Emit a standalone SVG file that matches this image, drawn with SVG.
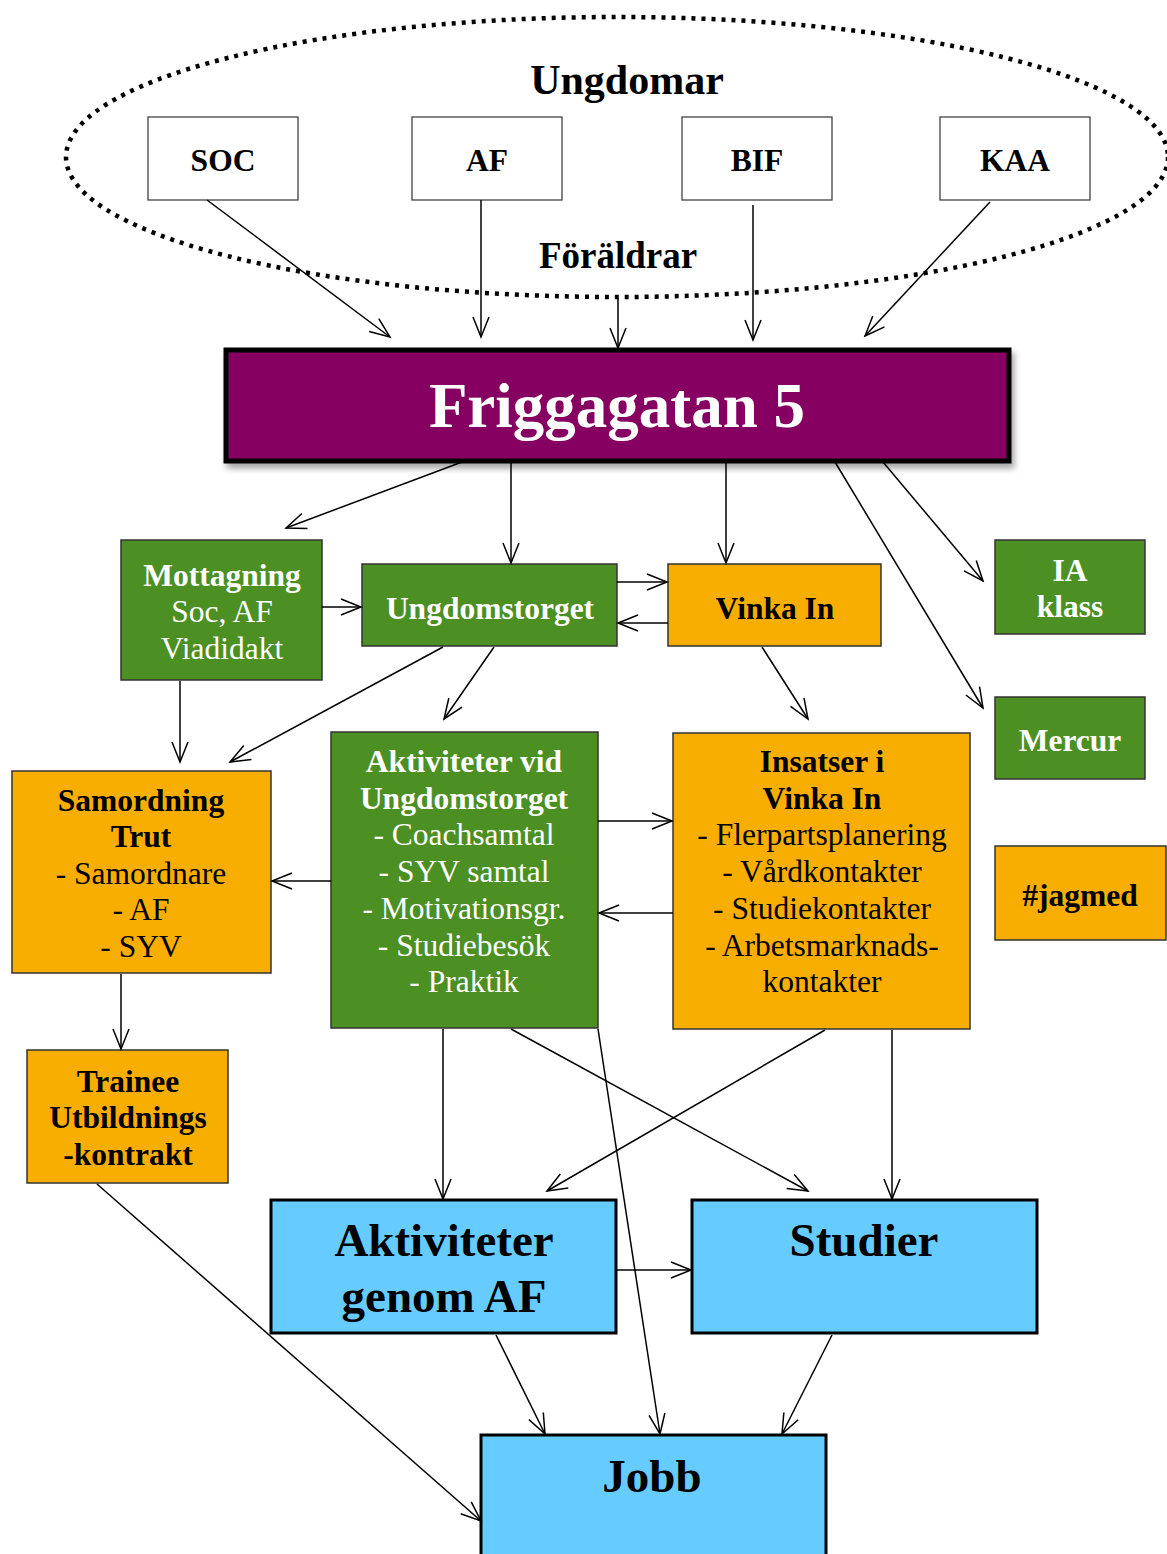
<svg xmlns="http://www.w3.org/2000/svg" width="1167" height="1554" viewBox="0 0 1167 1554">
<style>
text{font-family:"Liberation Serif","Times New Roman",serif;text-anchor:middle}
.b{font-weight:bold}
.s{font-size:31.5px}
.w{fill:#ffffff}
.k{fill:#000000}
.white{fill:#ffffff;stroke:#333333;stroke-width:1.2}
.green{fill:#4c8f23;stroke:#333333;stroke-width:1.5}
.orange{fill:#f8ae00;stroke:#333333;stroke-width:1.5}
.blue{fill:#66ccff;stroke:#000000;stroke-width:3}
.c line,.c path{stroke:#000000;stroke-width:1.5;fill:none;marker-end:url(#ah)}
</style>
<defs>
<marker id="ah" markerUnits="userSpaceOnUse" markerWidth="26" markerHeight="22" viewBox="-23 -11 26 22" refX="0" refY="0" orient="auto">
<path d="M-20,-8 L0,0 L-20,8" fill="none" stroke="#000000" stroke-width="1.5"/>
</marker>
<filter id="sh" x="-5%" y="-20%" width="112%" height="150%">
<feDropShadow dx="3" dy="5" stdDeviation="3" flood-color="#000000" flood-opacity="0.35"/>
</filter>
</defs>
<rect width="1167" height="1554" fill="#ffffff"/>

<g id="ellipse">
<ellipse cx="617" cy="157" rx="551" ry="140" fill="none" stroke="#000000" stroke-width="4.5" stroke-dasharray="4 6"/>
<text x="627" y="94" class="b" font-size="42">Ungdomar</text>
<text x="618" y="268" class="b" font-size="37">Föräldrar</text>
</g>

<g id="soc"><rect x="148" y="117" width="150" height="83" class="white"/><text x="223" y="171" class="b s k">SOC</text></g>
<g id="af"><rect x="412" y="117" width="150" height="83" class="white"/><text x="487" y="171" class="b s k">AF</text></g>
<g id="bif"><rect x="682" y="117" width="150" height="83" class="white"/><text x="757" y="171" class="b s k">BIF</text></g>
<g id="kaa"><rect x="940" y="117" width="150" height="83" class="white"/><text x="1015" y="171" class="b s k">KAA</text></g>

<g id="friggagatan">
<rect x="226" y="350" width="783" height="111" fill="#850060" stroke="#000000" stroke-width="5" filter="url(#sh)"/>
<text x="617" y="427" class="b w" font-size="63">Friggagatan 5</text>
</g>

<g id="mottagning"><rect x="121" y="540" width="201" height="140" class="green"/>
<text x="222" y="586" class="b s w">Mottagning</text>
<text x="222" y="622" class="s w">Soc, AF</text>
<text x="222" y="659" class="s w">Viadidakt</text></g>

<g id="ungdomstorget"><rect x="362" y="564" width="255" height="82" class="green"/><text x="490" y="619" class="b s w">Ungdomstorget</text></g>
<g id="vinkain"><rect x="668" y="564" width="213" height="82" class="orange"/><text x="775" y="619" class="b s k">Vinka In</text></g>
<g id="iaklass"><rect x="995" y="540" width="150" height="94" class="green"/><text x="1070" y="581" class="b s w">IA</text><text x="1070" y="617" class="b s w">klass</text></g>
<g id="mercur"><rect x="995" y="697" width="150" height="82" class="green"/><text x="1070" y="751" class="b s w">Mercur</text></g>
<g id="jagmed"><rect x="995" y="846" width="171" height="94" class="orange"/><text x="1080" y="906" class="b s k">#jagmed</text></g>

<g id="samordning"><rect x="12" y="771" width="259" height="202" class="orange"/>
<text x="141" y="811" class="b s k">Samordning</text>
<text x="141" y="847" class="b s k">Trut</text>
<text x="141" y="884" class="s k">- Samordnare</text>
<text x="141" y="920" class="s k">- AF</text>
<text x="141" y="957" class="s k">- SYV</text></g>

<g id="aktiviteter-vid"><rect x="331" y="732" width="267" height="296" class="green"/>
<text x="464" y="772" class="b s w">Aktiviteter vid</text>
<text x="464" y="809" class="b s w">Ungdomstorget</text>
<text x="464" y="845" class="s w">- Coachsamtal</text>
<text x="464" y="882" class="s w">- SYV samtal</text>
<text x="464" y="919" class="s w">- Motivationsgr.</text>
<text x="464" y="956" class="s w">- Studiebesök</text>
<text x="464" y="992" class="s w">- Praktik</text></g>

<g id="insatser"><rect x="673" y="733" width="297" height="296" class="orange"/>
<text x="822" y="772" class="b s k">Insatser i</text>
<text x="822" y="809" class="b s k">Vinka In</text>
<text x="822" y="845" class="s k">- Flerpartsplanering</text>
<text x="822" y="882" class="s k">- Vårdkontakter</text>
<text x="822" y="919" class="s k">- Studiekontakter</text>
<text x="822" y="956" class="s k">- Arbetsmarknads-</text>
<text x="822" y="992" class="s k">kontakter</text></g>

<g id="trainee"><rect x="27" y="1050" width="201" height="133" class="orange"/>
<text x="128" y="1092" class="b s k">Trainee</text>
<text x="128" y="1128" class="b s k">Utbildnings</text>
<text x="128" y="1165" class="b s k">-kontrakt</text></g>

<g id="aktiviteter-af"><rect x="271" y="1200" width="345" height="133" class="blue"/>
<text x="444" y="1256" class="b k" font-size="47">Aktiviteter</text>
<text x="444" y="1312" class="b k" font-size="47">genom AF</text></g>
<g id="studier"><rect x="692" y="1200" width="345" height="133" class="blue"/>
<text x="864" y="1256" class="b k" font-size="47">Studier</text></g>
<g id="jobb"><rect x="481" y="1435" width="345" height="130" class="blue"/>
<text x="652" y="1492" class="b k" font-size="47">Jobb</text></g>

<g id="connectors" class="c">
<line x1="207" y1="200" x2="390" y2="337"/>
<line x1="481" y1="200" x2="481" y2="337"/>
<line x1="618" y1="298" x2="618" y2="348"/>
<line x1="753" y1="205" x2="753" y2="340"/>
<line x1="990" y1="202" x2="865" y2="336"/>
<line x1="462" y1="462" x2="286" y2="528"/>
<line x1="511" y1="462" x2="511" y2="563"/>
<line x1="726" y1="462" x2="726" y2="563"/>
<line x1="835" y1="462" x2="983" y2="708"/>
<line x1="883" y1="462" x2="983" y2="581"/>
<line x1="322" y1="607" x2="361" y2="607"/>
<line x1="617" y1="582" x2="667" y2="582"/>
<line x1="668" y1="623" x2="618" y2="623"/>
<line x1="443" y1="647" x2="230" y2="762"/>
<line x1="494" y1="647" x2="444" y2="719"/>
<line x1="180" y1="681" x2="180" y2="762"/>
<line x1="762" y1="647" x2="808" y2="719"/>
<line x1="331" y1="881" x2="272" y2="881"/>
<line x1="598" y1="821" x2="672" y2="821"/>
<line x1="673" y1="913" x2="599" y2="913"/>
<line x1="121" y1="974" x2="121" y2="1049"/>
<line x1="443" y1="1029" x2="443" y2="1199"/>
<line x1="511" y1="1029" x2="808" y2="1191"/>
<line x1="598" y1="1029" x2="660" y2="1434"/>
<line x1="825" y1="1030" x2="547" y2="1191"/>
<line x1="892" y1="1030" x2="892" y2="1199"/>
<line x1="617" y1="1270" x2="691" y2="1270"/>
<line x1="496" y1="1335" x2="545" y2="1434"/>
<line x1="832" y1="1335" x2="782" y2="1434"/>
<line x1="97" y1="1184" x2="481" y2="1521"/>
</g>
</svg>
